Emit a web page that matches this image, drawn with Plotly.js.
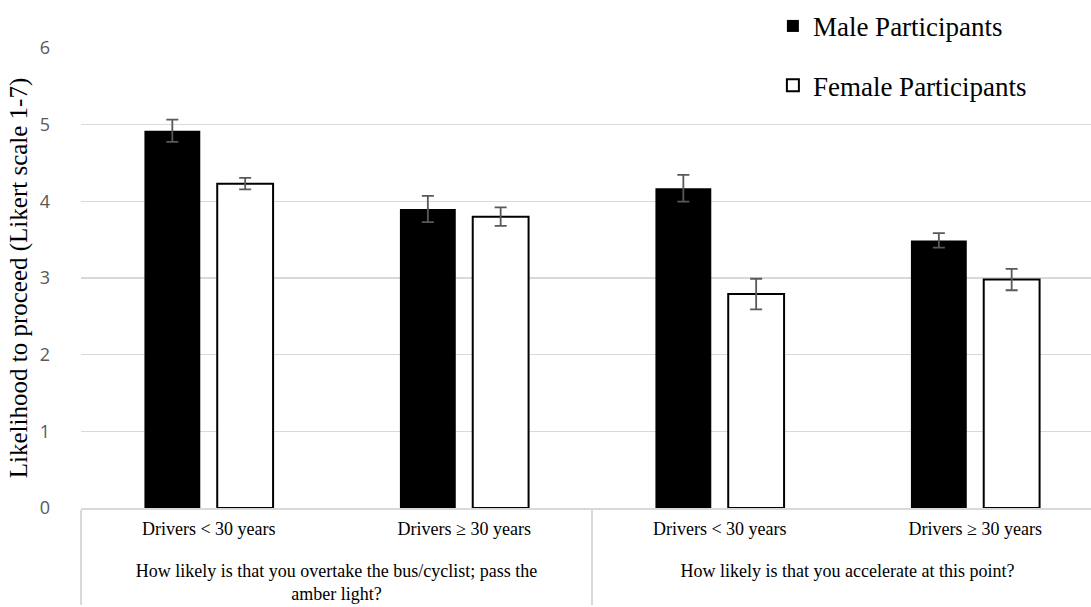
<!DOCTYPE html>
<html>
<head>
<meta charset="utf-8">
<script src="https://cdn.plot.ly/plotly-3.0.1.min.js"></script>
<style>
html,body{margin:0;padding:0;overflow:hidden;background:#fff;}
#chart{width:1110px;height:607px;}
</style>
</head>
<body>
<div id="chart"></div>
<script>
// Data
const questions = [
  "How likely is that you overtake the bus/cyclist; pass the<br>amber light?",
  "How likely is that you accelerate at this point?"
];
const ageGroups = ["Drivers < 30 years<br> ", "Drivers \u2265 30 years<br> "];
const seriesNames = ["Male Participants", "Female Participants"];
const maleValues = [4.92, 3.90, 4.17, 3.49];
const maleErrors = [0.145, 0.17, 0.175, 0.095];
const femaleValues = [4.23, 3.80, 2.79, 2.98];
const femaleErrors = [0.075, 0.12, 0.20, 0.14];
const yTicks = [0, 1, 2, 3, 4, 5, 6];

const outer = [], inner = [];
questions.forEach(q => ageGroups.forEach(a => { outer.push(q); inner.push(a); }));
const xCats = [outer, inner];

const errStyle = {type: 'data', visible: true, color: '#595959', thickness: 1.8, width: 6};

const traces = [
  {
    type: 'bar', name: seriesNames[0], x: xCats, y: maleValues,
    marker: {color: '#000000', line: {color: '#000000', width: 0}},
    error_y: Object.assign({array: maleErrors}, errStyle),
    legend: 'legend'
  },
  {
    type: 'bar', name: seriesNames[1], x: xCats, y: femaleValues,
    marker: {color: '#ffffff', line: {color: '#000000', width: 2}},
    error_y: Object.assign({array: femaleErrors}, errStyle),
    legend: 'legend2'
  }
];

const serif = 'Liberation Serif, Times New Roman, serif';
const legendBase = {
  font: {family: serif, size: 27, color: '#000'},
  bgcolor: 'rgba(0,0,0,0)', borderwidth: 0,
  xanchor: 'left', yanchor: 'middle', itemwidth: 30
};

const layout = {
  width: 1110, height: 607,
  margin: {l: 81, r: 7, t: 48, b: 99, autoexpand: false},
  paper_bgcolor: '#fff', plot_bgcolor: '#fff',
  barmode: 'group', bargap: 0.43, bargroupgap: 0.233,
  showlegend: true,
  legend: Object.assign({x: 0.677, y: 1.047}, legendBase),
  legend2: Object.assign({x: 0.677, y: 0.918}, legendBase),
  xaxis: {
    type: 'multicategory',
    showline: true, linecolor: '#d9d9d9', linewidth: 2,
    ticks: '', showgrid: false,
    showdividers: true, dividercolor: '#d9d9d9', dividerwidth: 2,
    ticklabelstandoff: 3,
    tickfont: {family: serif, size: 18, color: '#000'},
    automargin: false
  },
  yaxis: {
    range: [0, 6], tickvals: yTicks, ticktext: yTicks.map(String),
    showgrid: true, gridcolor: '#d9d9d9', gridwidth: 1.5,
    zeroline: false, showline: false, ticks: '',
    ticklabelstandoff: 30,
    tickfont: {family: 'Open Sans, sans-serif', size: 18, color: '#595959'},
    title: {text: 'Likelihood to proceed (Likert scale 1-7)', font: {family: serif, size: 25, color: '#000'}, standoff: 4},
    automargin: false
  }
};

Plotly.newPlot('chart', traces, layout, {displayModeBar: false, staticPlot: true});
</script>
</body>
</html>
